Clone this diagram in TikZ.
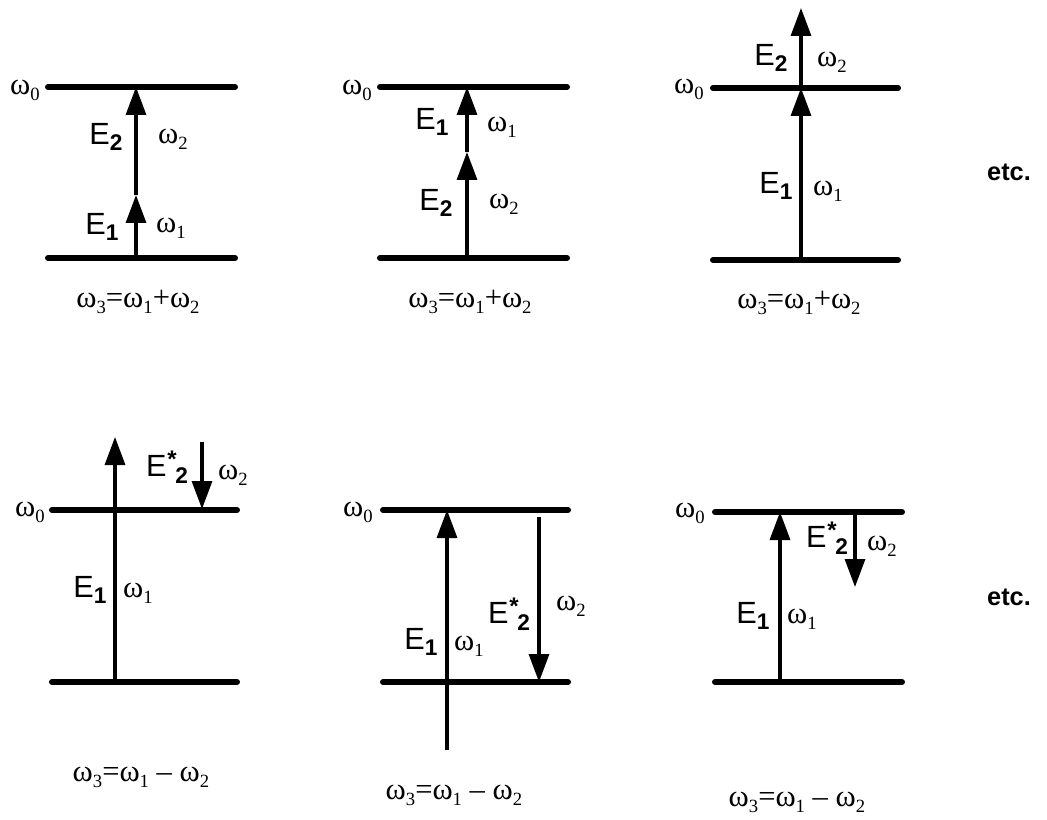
\documentclass[tikz,border=0pt]{standalone}
\usepackage{fontspec}
\setmainfont{Liberation Serif}
\newfontfamily\efont{Liberation Sans}
\usetikzlibrary{arrows.meta}
\newcommand{\wsub}[1]{ω\raisebox{-0.2em}{\fontsize{14}{14}\selectfont #1}}
\newcommand{\efield}[1]{{\efont E\raisebox{-0.22em}{\fontsize{17}{17}\selectfont\bfseries #1}}}
\newcommand{\efieldc}[1]{{\efont E\kern0.5pt\raisebox{0.3em}{\fontsize{18}{18}\selectfont\bfseries *}\kern-1pt\raisebox{-0.22em}{\fontsize{17}{17}\selectfont\bfseries #1}}}
\tikzset{
  elevel/.style={line width=4.5pt,line cap=round},
  beam/.style={line width=2.4pt,->},
  wlab/.style={inner sep=0pt,font=\fontsize{23}{26}\selectfont},
  elab/.style={inner sep=0pt,font=\fontsize{23}{26}\selectfont},
}
\begin{document}
\begin{tikzpicture}[x=0.75pt,y=-0.75pt,>={Triangle[length=21pt,width=15pt]}]
\useasboundingbox (0,0) rectangle (1047,820);
% sum frequency, E1 then E2
\coordinate (g1a) at (48,258); \coordinate (g1b) at (235,258);
\coordinate (u1a) at (48,87); \coordinate (u1b) at (235,87);
\draw[elevel] (g1a)--(g1b);
\draw[elevel] (u1a)--(u1b);
\coordinate (s1) at (136,258); \coordinate (m1) at (136,195); \coordinate (t1) at (136,87);
\draw[beam] (s1)--(m1);
\draw[beam] (m1)--(t1);
\node[wlab] (w01) at (25,90) {\wsub{0}};
\node[elab] (e21) at (106,137) {\efield{2}};
\node[wlab] (w21) at (173,139) {\wsub{2}};
\node[elab] (e11) at (102,227) {\efield{1}};
\node[wlab] (w11) at (171,228) {\wsub{1}};
\node[wlab] (c1) at (138,302) {\wsub{3}=\wsub{1}+\wsub{2}};
% sum frequency, E2 then E1
\coordinate (g2a) at (380,258); \coordinate (g2b) at (567,258);
\coordinate (u2a) at (380,87); \coordinate (u2b) at (567,87);
\draw[elevel] (g2a)--(g2b);
\draw[elevel] (u2a)--(u2b);
\coordinate (s2) at (467,258); \coordinate (m2) at (467,152); \coordinate (t2) at (467,87);
\draw[beam] (s2)--(m2);
\draw[beam] (m2)--(t2);
\node[wlab] (w02) at (357,90) {\wsub{0}};
\node[elab] (e12) at (432,122) {\efield{1}};
\node[wlab] (w12) at (502,127) {\wsub{1}};
\node[elab] (e22) at (436,203) {\efield{2}};
\node[wlab] (w22) at (504,204) {\wsub{2}};
\node[wlab] (c2) at (470,302) {\wsub{3}=\wsub{1}+\wsub{2}};
% sum frequency, above the upper level
\coordinate (g3a) at (713,260); \coordinate (g3b) at (898,260);
\coordinate (u3a) at (713,88); \coordinate (u3b) at (898,88);
\draw[elevel] (g3a)--(g3b);
\draw[elevel] (u3a)--(u3b);
\coordinate (s3) at (801,260); \coordinate (m3) at (801,88); \coordinate (t3) at (801,8);
\draw[beam] (s3)--(m3);
\draw[beam] (m3)--(t3);
\node[wlab] (w03) at (689,89) {\wsub{0}};
\node[elab] (e23) at (771,58) {\efield{2}};
\node[wlab] (w23) at (832,62) {\wsub{2}};
\node[elab] (e13) at (776,186) {\efield{1}};
\node[wlab] (w13) at (828,191) {\wsub{1}};
\node[wlab] (c3) at (799,303) {\wsub{3}=\wsub{1}+\wsub{2}};
\node[elab,font=\fontsize{19}{22}\selectfont\efont\bfseries] (etc1) at (1009,172) {etc.};
% difference frequency, E1 past the upper level
\coordinate (g4a) at (52,682); \coordinate (g4b) at (237,682);
\coordinate (u4a) at (52,510); \coordinate (u4b) at (237,510);
\draw[elevel] (g4a)--(g4b);
\draw[elevel] (u4a)--(u4b);
\coordinate (s4) at (115,682); \coordinate (t4) at (115,437);
\coordinate (d4a) at (202,442); \coordinate (d4b) at (202,509);
\draw[beam] (s4)--(t4);
\draw[beam] (d4a)--(d4b);
\node[wlab] (w04) at (30,512) {\wsub{0}};
\node[elab] (e24) at (167,467) {\efieldc{2}};
\node[wlab] (w24) at (233,475) {\wsub{2}};
\node[elab] (e14) at (90,590) {\efield{1}};
\node[wlab] (w14) at (138,593) {\wsub{1}};
\node[wlab] (c4) at (141,777) {\wsub{3}=\wsub{1} – \wsub{2}};
% difference frequency, E2* down to the lower level
\coordinate (g5a) at (383,682); \coordinate (g5b) at (568,682);
\coordinate (u5a) at (383,510); \coordinate (u5b) at (568,510);
\draw[elevel] (g5a)--(g5b);
\draw[elevel] (u5a)--(u5b);
\coordinate (s5) at (447,750); \coordinate (t5) at (447,510);
\coordinate (d5a) at (539,517); \coordinate (d5b) at (539,682);
\draw[beam] (s5)--(t5);
\draw[beam] (d5a)--(d5b);
\node[wlab] (w05) at (358,512) {\wsub{0}};
\node[elab] (e25) at (509,614) {\efieldc{2}};
\node[wlab] (w25) at (571,606) {\wsub{2}};
\node[elab] (e15) at (421,642) {\efield{1}};
\node[wlab] (w15) at (469,646) {\wsub{1}};
\node[wlab] (c5) at (454,795) {\wsub{3}=\wsub{1} – \wsub{2}};
% difference frequency, E2* below the upper level
\coordinate (g6a) at (715,682); \coordinate (g6b) at (902,682);
\coordinate (u6a) at (715,512); \coordinate (u6b) at (902,512);
\draw[elevel] (g6a)--(g6b);
\draw[elevel] (u6a)--(u6b);
\coordinate (s6) at (780,682); \coordinate (t6) at (780,512);
\coordinate (d6a) at (855,512); \coordinate (d6b) at (855,587);
\draw[beam] (s6)--(t6);
\draw[beam] (d6a)--(d6b);
\node[wlab] (w06) at (690,513) {\wsub{0}};
\node[elab] (e26) at (827,538) {\efieldc{2}};
\node[wlab] (w26) at (882,546) {\wsub{2}};
\node[elab] (e16) at (753,616) {\efield{1}};
\node[wlab] (w16) at (802,619) {\wsub{1}};
\node[wlab] (c6) at (797,802) {\wsub{3}=\wsub{1} – \wsub{2}};
\node[elab,font=\fontsize{19}{22}\selectfont\efont\bfseries] (etc2) at (1009,597) {etc.};
\end{tikzpicture}
\end{document}
